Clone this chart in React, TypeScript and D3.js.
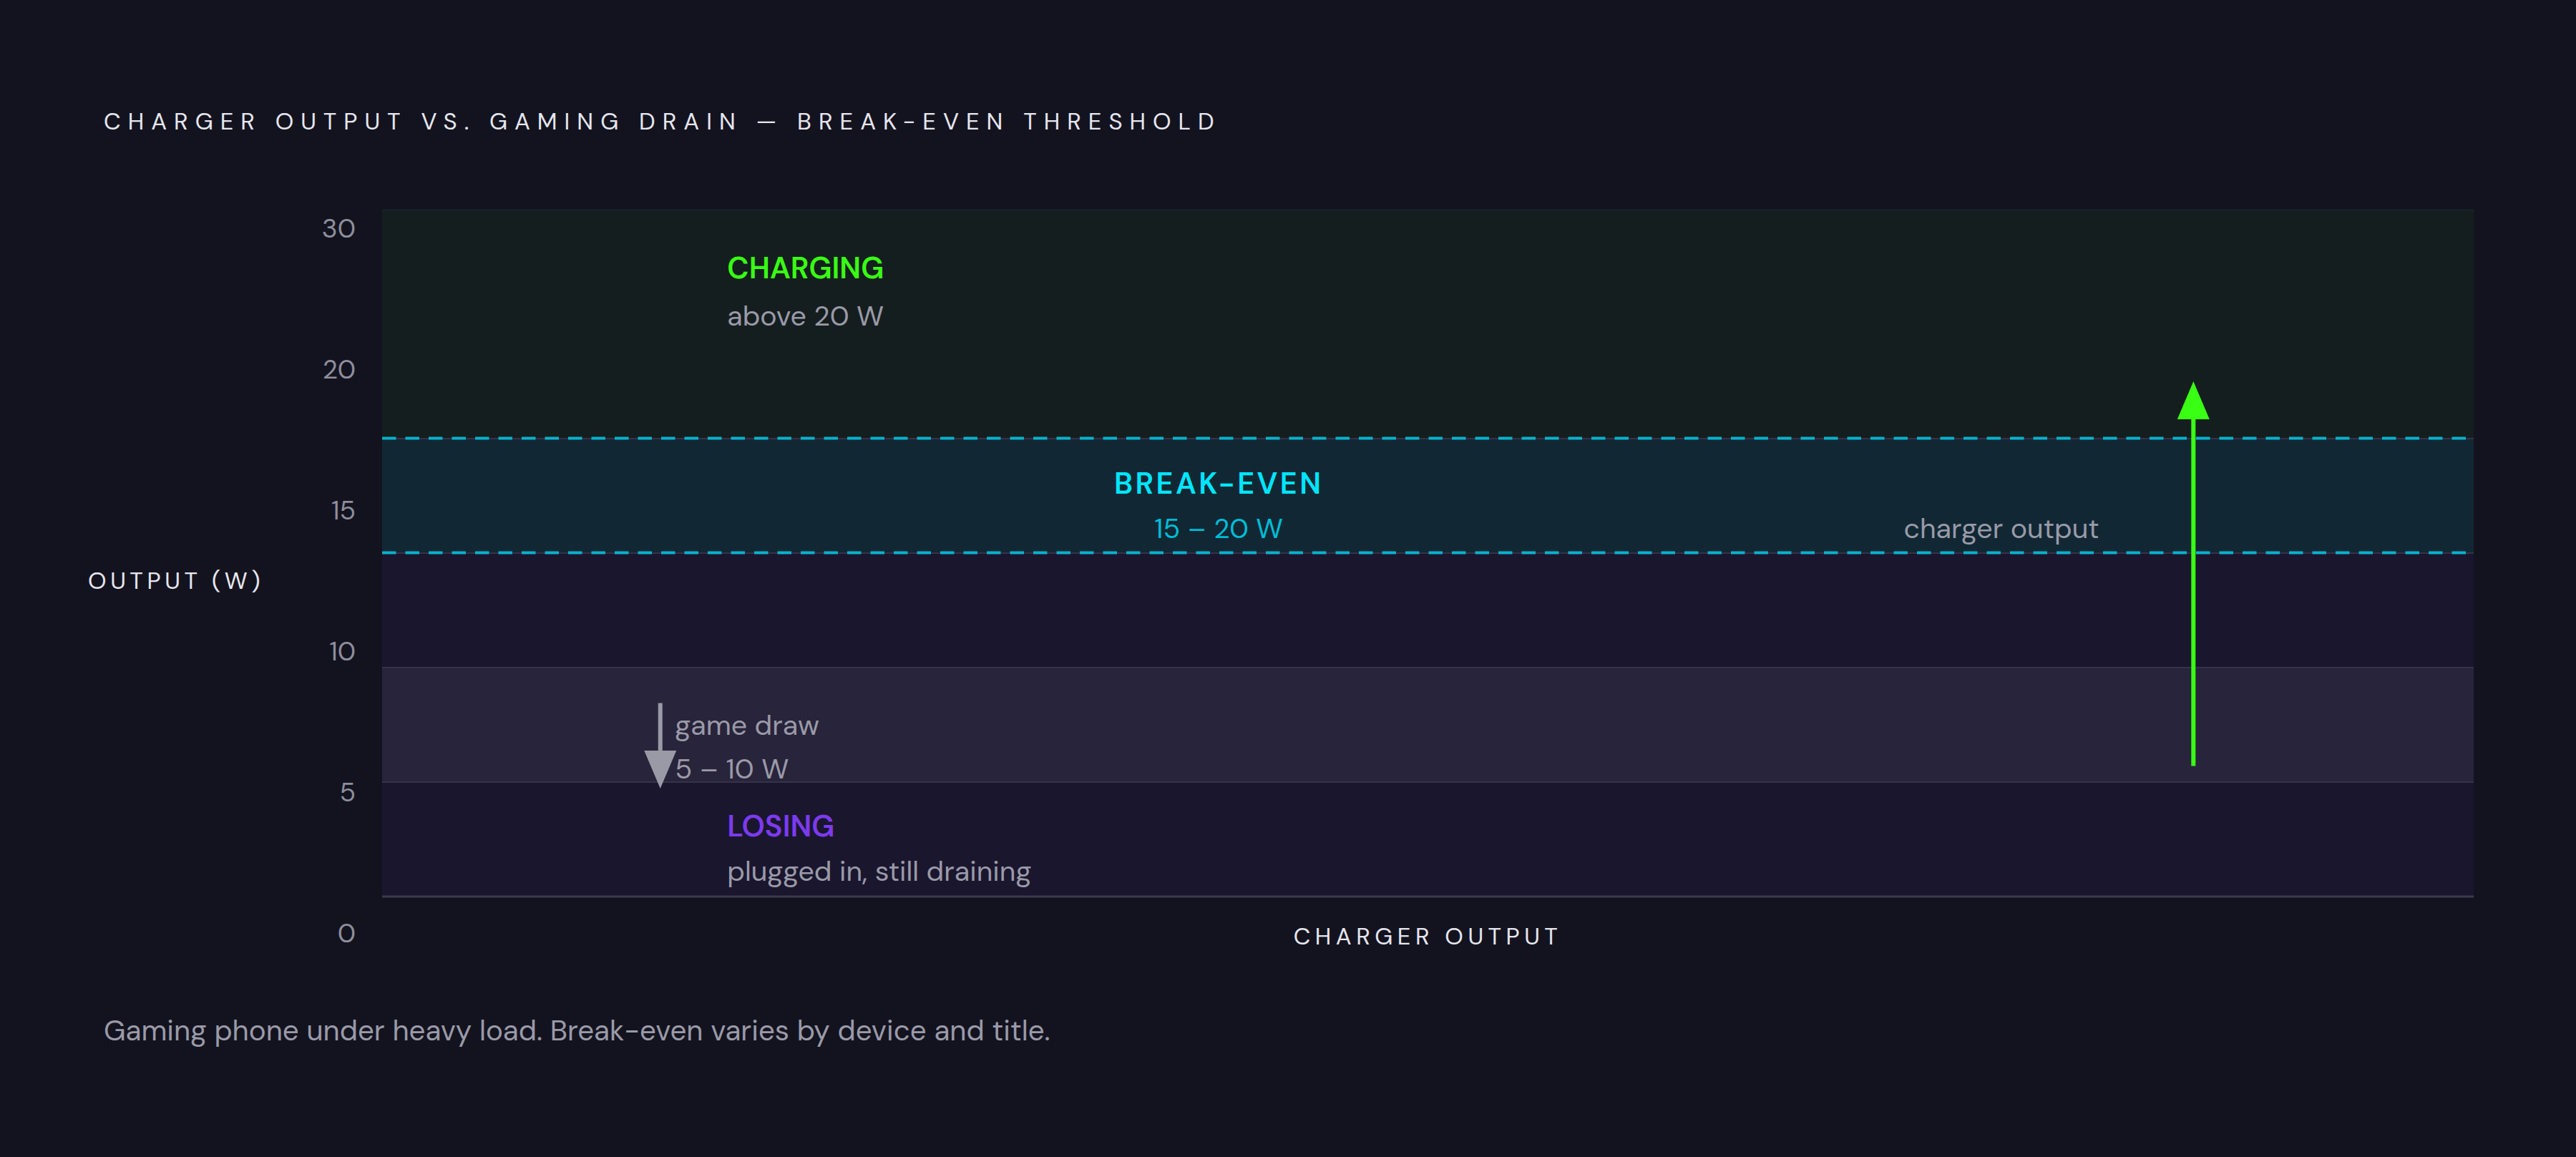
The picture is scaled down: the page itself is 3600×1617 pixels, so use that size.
import React from "react";
import * as d3 from "d3";

// ---------- data ----------
const title = "CHARGER OUTPUT VS. GAMING DRAIN — BREAK-EVEN THRESHOLD";
const caption = "Gaming phone under heavy load. Break-even varies by device and title.";
const yAxisTitle = "OUTPUT (W)";
const xAxisTitle = "CHARGER OUTPUT";

const tickLabels = ["30", "20", "15", "10", "5", "0"];

// zones (watts)
const zoneNames = ["charging", "breakeven", "losing", "gamedraw", "losing"];
const zoneFrom = [20, 15, 10, 5, 0];
const zoneTo = [30, 20, 15, 10, 5];
const zoneFill = ["#151e1f", "#112834", "#1a162e", "#28243b", "#1a162e"];

// break-even threshold lines (W)
const thresholds = [20, 15];

// labels: text, x (fraction of width), y (W), kind
const labelTexts = ["CHARGING", "above 20 W", "BREAK-EVEN", "15 – 20 W", "charger output", "game draw", "5 – 10 W", "LOSING", "plugged in, still draining"];
const labelX = [0.165, 0.165, 0.4, 0.4, 0.821, 0.14, 0.14, 0.165, 0.165];
const labelY = [27, 24.95, 17.6, 15.65, 15.65, 7.05, 5.15, 2.63, 0.7];
const labelKind = ["headGreen", "sub", "headCyan", "subCyan", "subEnd", "sub", "sub", "headPurple", "sub"];

// arrows: x fraction, from W, to W
const arrowX = [0.866, 0.133];
const arrowFrom = [5.7, 8.45];
const arrowTo = [22.5, 4.72];
const arrowColor = ["#39ff14", "#9a9aa6"];

// ---------- component ----------
const W = 3600;
const H = 1617;
const FONT = "'DM Sans', Inter, 'Noto Sans', sans-serif";

export default function App() {
  const plot = { left: 534, right: 3457, top: 293, bottom: 1253 };
  const y = d3.scaleLinear().domain([0, 30]).range([plot.bottom, plot.top]);
  const x = d3.scaleLinear().domain([0, 1]).range([plot.left, plot.right]);
  const tickY = d3.scalePoint<string>().domain(tickLabels).range([plot.top + 26, plot.bottom + 51]);

  const headW = 45;
  const headH = 53;

  const kindStyle = (k: string) => {
    switch (k) {
      case "headGreen":
        return { fill: "#39ff14", fontSize: 41.5, fontWeight: 600, anchor: "start", ls: 0 };
      case "headCyan":
        return { fill: "#00e5ff", fontSize: 41.5, fontWeight: 600, anchor: "middle", ls: 3.4 };
      case "headPurple":
        return { fill: "#7c3aed", fontSize: 41.5, fontWeight: 600, anchor: "start", ls: 0 };
      case "subCyan":
        return { fill: "#00bcd6", fontSize: 39, fontWeight: 400, anchor: "middle", ls: 0 };
      case "subEnd":
        return { fill: "#9a9aa8", fontSize: 39.4, fontWeight: 400, anchor: "end", ls: 0 };
      default:
        return { fill: "#9a9aa8", fontSize: 39.4, fontWeight: 400, anchor: "start", ls: 0 };
    }
  };

  return (
    <div style={{ position: "fixed", left: 0, top: 0, width: W, height: H, background: "#13131f" }}>
      <svg width={W} height={H} viewBox={`0 0 ${W} ${H}`} style={{ display: "block", fontFamily: FONT }}>
        <rect x={0} y={0} width={W} height={H} fill="#13131f" />

        {/* title */}
        <text x={145} y={181} fill="#e6e6ee" fontSize={33} letterSpacing={10} fontWeight={400}>
          {title}
        </text>

        {/* zones */}
        {zoneNames.map((n, i) => (
          <rect
            key={"z" + i}
            x={plot.left}
            y={y(zoneTo[i])}
            width={plot.right - plot.left}
            height={y(zoneFrom[i]) - y(zoneTo[i])}
            fill={zoneFill[i]}
          />
        ))}
        {/* top faint edge */}
        <line x1={plot.left} x2={plot.right} y1={y(30) + 0.5} y2={y(30) + 0.5} stroke="#1d2828" strokeWidth={1} />
        {/* zone boundaries */}
        {zoneFrom.slice(0, 4).map((v, i) => (
          <line key={"b" + i} x1={plot.left} x2={plot.right} y1={y(v)} y2={y(v)} stroke="#363249" strokeWidth={2} />
        ))}
        {/* bottom axis line */}
        <line x1={plot.left} x2={plot.right} y1={y(0)} y2={y(0)} stroke="#3a3a4a" strokeWidth={3} />

        {/* threshold dashed lines */}
        {thresholds.map((v, i) => (
          <line
            key={"t" + i}
            x1={plot.left}
            x2={plot.right}
            y1={y(v) - 0.5}
            y2={y(v) - 0.5}
            stroke="#0ab2cc"
            strokeWidth={4}
            strokeDasharray="19.5 13"
          />
        ))}

        {/* y tick labels */}
        {tickLabels.map((t) => (
          <text key={"tk" + t} x={497} y={tickY(t)} dy="0.36em" textAnchor="end" fill="#8e8e9c" fontSize={37}>
            {t}
          </text>
        ))}

        {/* axis titles */}
        <text x={123} y={823} fill="#e6e6ee" fontSize={33} letterSpacing={5.6}>
          {yAxisTitle}
        </text>
        <text x={(plot.left + plot.right) / 2} y={1320} textAnchor="middle" fill="#e6e6ee" fontSize={33} letterSpacing={6.5}>
          {xAxisTitle}
        </text>

        {/* arrows */}
        {arrowX.map((fx, i) => {
          const ax = x(fx);
          const y0 = y(arrowFrom[i]);
          const y1 = y(arrowTo[i]);
          const dir = y1 < y0 ? -1 : 1;
          const baseY = y1 - dir * headH;
          const head = d3.line()([
            [ax, y1],
            [ax - headW / 2, baseY],
            [ax + headW / 2, baseY],
          ]) + "Z";
          return (
            <g key={"a" + i}>
              <line x1={ax} x2={ax} y1={y0} y2={baseY} stroke={arrowColor[i]} strokeWidth={6} />
              <path d={head} fill={arrowColor[i]} />
            </g>
          );
        })}

        {/* labels */}
        {labelTexts.map((t, i) => {
          const s = kindStyle(labelKind[i]);
          return (
            <text
              key={"l" + i}
              x={x(labelX[i])}
              y={y(labelY[i])}
              textAnchor={s.anchor as any}
              fill={s.fill}
              fontSize={s.fontSize}
              fontWeight={s.fontWeight}
              letterSpacing={s.ls}
            >
              {t}
            </text>
          );
        })}

        {/* caption */}
        <text x={145} y={1454} fill="#9a9aa8" fontSize={40.3}>
          {caption}
        </text>
      </svg>
    </div>
  );
}
